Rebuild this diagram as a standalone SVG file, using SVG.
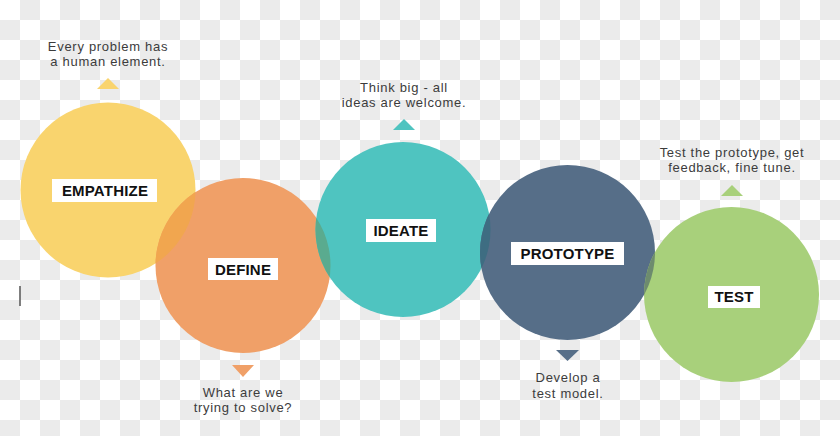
<svg xmlns="http://www.w3.org/2000/svg" width="840" height="436" viewBox="0 0 840 436">
  <style>
    .lbl-box { fill: #ffffff; }
    .lbl { font-family: "Liberation Sans", Arial, sans-serif; font-weight: bold; font-size: 15px; fill: #111111; text-anchor: middle; letter-spacing: 0.2px; }
    .note { font-family: "Liberation Sans", Arial, sans-serif; font-size: 13px; fill: #3c3c3c; text-anchor: middle; letter-spacing: 0.7px; }
  </style>
  <defs>
    <pattern id="checker" patternUnits="userSpaceOnUse" width="40" height="40">
      <rect width="40" height="40" fill="#ffffff"/>
      <rect x="20" y="0" width="20" height="20" fill="#ebebeb"/>
      <rect x="0" y="20" width="20" height="20" fill="#ebebeb"/>
    </pattern>
    <clipPath id="clip-emp"><circle cx="108" cy="190" r="87.5"/></clipPath>
    <clipPath id="clip-def"><circle cx="243" cy="265.5" r="87.5"/></clipPath>
    <clipPath id="clip-ide"><circle cx="403" cy="229.5" r="87.5"/></clipPath>
    <clipPath id="clip-pro"><circle cx="567.5" cy="252.5" r="87.5"/></clipPath>
  </defs>

  <rect id="background" width="840" height="436" fill="url(#checker)"/>
  <line x1="20" y1="286" x2="20" y2="306" stroke="#555555" stroke-width="1.5"/>

  <g id="node-empathize">
    <circle cx="108" cy="190" r="87.5" fill="#f9d46e"/>
    <rect class="lbl-box" x="52" y="179" width="105" height="23"/>
    <text class="lbl" x="105" y="196">EMPATHIZE</text>
    <polygon points="108,78 97,89 119,89" fill="#f9d46e"/>
    <text class="note" x="108" y="51">Every problem has</text>
    <text class="note" x="108" y="66">a human element.</text>
  </g>

  <g id="node-define">
    <circle cx="243" cy="265.5" r="87.5" fill="#f0a068"/>
    <rect class="lbl-box" x="208" y="258" width="70" height="22"/>
    <text class="lbl" x="243" y="275">DEFINE</text>
    <polygon points="232,365 254,365 243,377" fill="#f0a068"/>
    <text class="note" x="243" y="397">What are we</text>
    <text class="note" x="243" y="412">trying to solve?</text>
  </g>

  <g id="node-ideate">
    <circle cx="403" cy="229.5" r="87.5" fill="#4fc4c0"/>
    <rect class="lbl-box" x="366" y="219" width="70" height="23"/>
    <text class="lbl" x="401" y="236">IDEATE</text>
    <polygon points="404,119 393,130 415,130" fill="#4fc4c0"/>
    <text class="note" x="404" y="92">Think big - all</text>
    <text class="note" x="404" y="107">ideas are welcome.</text>
  </g>

  <g id="node-prototype">
    <circle cx="567.5" cy="252.5" r="87.5" fill="#566e88"/>
    <rect class="lbl-box" x="511" y="242" width="113" height="23"/>
    <text class="lbl" x="567.5" y="259">PROTOTYPE</text>
    <polygon points="556,350 579,350 567.5,361" fill="#566e88"/>
    <text class="note" x="568" y="382">Develop a</text>
    <text class="note" x="568" y="398">test model.</text>
  </g>

  <g id="node-test">
    <circle cx="731.5" cy="294.5" r="87.5" fill="#a8d07b"/>
    <rect class="lbl-box" x="708" y="286" width="52" height="22"/>
    <text class="lbl" x="734" y="302">TEST</text>
    <polygon points="732,185 721,196 743,196" fill="#a8d07b"/>
    <text class="note" x="732" y="157">Test the prototype, get</text>
    <text class="note" x="732" y="172">feedback, fine tune.</text>
  </g>

  <g id="connectors">
    <circle cx="243" cy="265.5" r="87.5" fill="#f1a64f" clip-path="url(#clip-emp)"/>
    <circle cx="403" cy="229.5" r="87.5" fill="#5aab8f" clip-path="url(#clip-def)"/>
    <circle cx="567.5" cy="252.5" r="87.5" fill="#3e6d82" clip-path="url(#clip-ide)"/>
    <circle cx="731.5" cy="294.5" r="87.5" fill="#6d8b6e" clip-path="url(#clip-pro)"/>
  </g>
</svg>
